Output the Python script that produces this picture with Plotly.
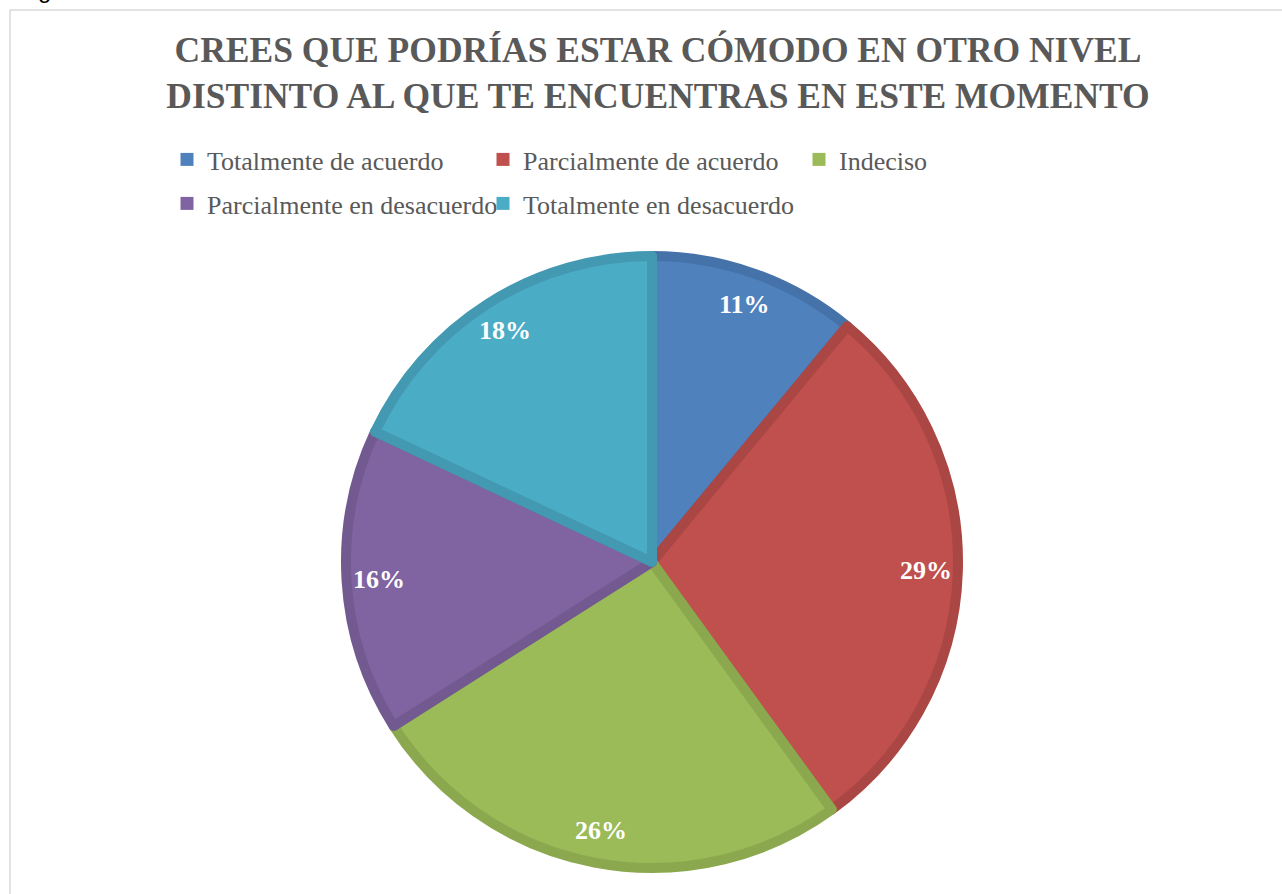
import math
import plotly.graph_objects as go

# data
categories = [
    "Totalmente de acuerdo",
    "Parcialmente de acuerdo",
    "Indeciso",
    "Parcialmente en desacuerdo",
    "Totalmente en desacuerdo",
]
percent_values = [11, 29, 26, 16, 18]

fill_colors = ["#4F81BD", "#C0504D", "#9BBB59", "#8064A2", "#4BACC6"]
edge_colors = ["#4573A9", "#AA4744", "#8BA84F", "#725A91", "#4399B1"]

W, H = 1282, 894
# pie geometry in pixels
cx, cy, radius = 652, 562, 306
label_r = 0.88 * 311

fig = go.Figure()

fig.add_trace(go.Pie(
    labels=categories,
    values=percent_values,
    sort=False,
    direction="clockwise",
    rotation=0,
    marker=dict(colors=fill_colors, line=dict(color=edge_colors, width=10)),
    textinfo="none",
    hoverinfo="label+percent",
    showlegend=False,
    domain=dict(x=[(cx - radius) / W, (cx + radius) / W],
                y=[(H - cy - radius) / H, (H - cy + radius) / H]),
))

# legend entries as dummy traces, split in two rows like the original
for i, (name, col) in enumerate(zip(categories, fill_colors)):
    fig.add_trace(go.Scatter(
        x=[None], y=[None], mode="markers", name=name,
        marker=dict(symbol="square", size=13, color=col),
        legend="legend" if i < 3 else "legend2",
    ))

# percentage labels, placed at the middle angle of each slice
total = sum(percent_values)
cum = 0
for v in percent_values:
    mid = (cum + v / 2) / total * 2 * math.pi
    cum += v
    px_ = cx + label_r * math.sin(mid)
    py_ = cy - label_r * math.cos(mid)
    fig.add_annotation(
        x=px_ / W, y=(H - py_) / H, xref="paper", yref="paper",
        xanchor="center", yanchor="middle",
        text=f"<b>{v}%</b>", showarrow=False,
        font=dict(family="Liberation Serif", size=26, color="white"),
    )

# cropped letter at the very top-left of the original screenshot
fig.add_annotation(
    x=36 / W, y=1 - 5 / H, xref="paper", yref="paper",
    xanchor="left", yanchor="bottom", text="g", showarrow=False,
    font=dict(family="Liberation Sans", size=24, color="black"),
)

legend_font = dict(family="Liberation Serif", size=26, color="#595959")

fig.update_layout(
    width=W, height=H,
    margin=dict(l=0, r=0, t=0, b=0),
    paper_bgcolor="white", plot_bgcolor="white",
    xaxis=dict(visible=False), yaxis=dict(visible=False),
    title=dict(
        text="<b>CREES QUE PODRÍAS ESTAR CÓMODO EN OTRO NIVEL<br>DISTINTO AL QUE TE ENCUENTRAS EN ESTE MOMENTO</b>",
        x=658 / W, xanchor="center", y=1 - 62 / H, yanchor="top",
        font=dict(family="Liberation Serif", size=35.5, color="#595959"),
    ),
    legend=dict(orientation="h", x=167 / W, xanchor="left", y=1 - 136 / H, yanchor="top",
                entrywidth=271, font=legend_font, bgcolor="rgba(0,0,0,0)"),
    legend2=dict(orientation="h", x=167 / W, xanchor="left", y=1 - 180 / H, yanchor="top",
                 entrywidth=271, font=legend_font, bgcolor="rgba(0,0,0,0)"),
    shapes=[dict(type="rect", xref="paper", yref="paper",
                 x0=10 / W, y0=-0.02, x1=1.02, y1=1 - 10 / H,
                 line=dict(color="#D9D9D9", width=1.5))],
)

# drop the default page margin so the figure sits at the window's corner
fig.write_html("out.html", config={"displayModeBar": False},
               post_script="document.body.style.margin='0';")
